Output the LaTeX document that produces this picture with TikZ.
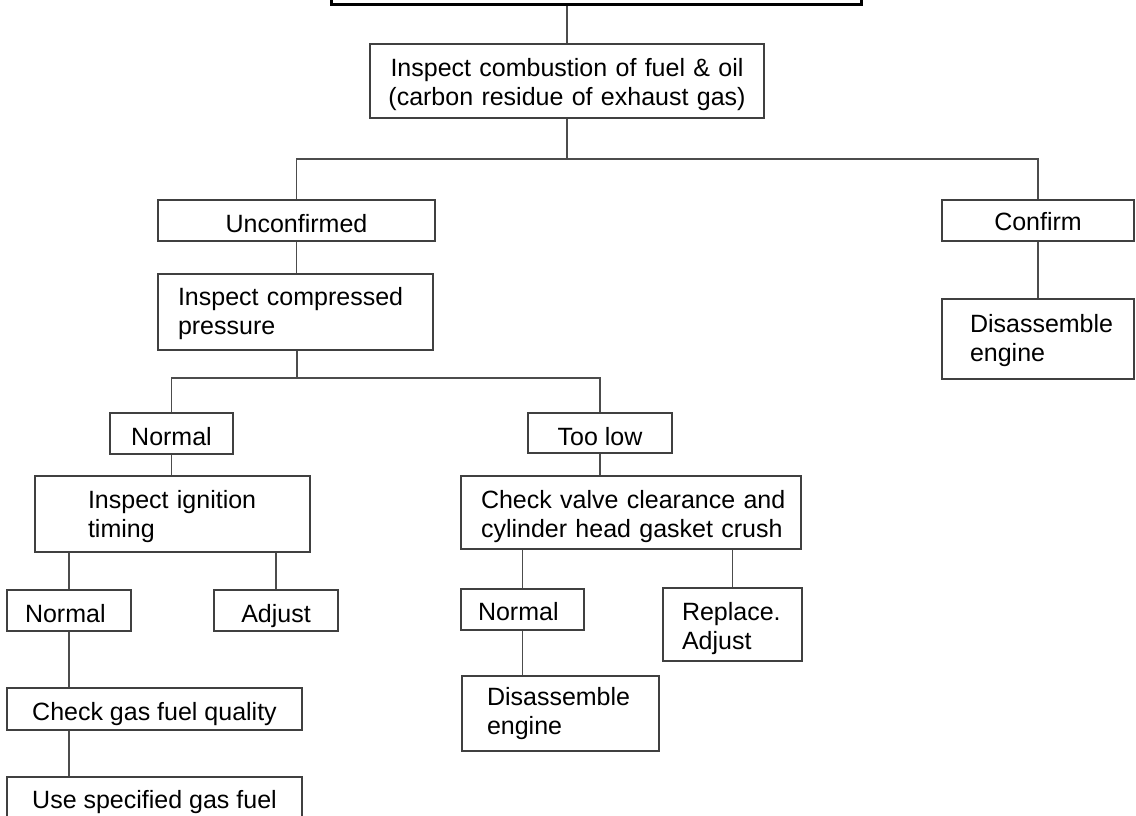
\documentclass[tikz,border=0pt]{standalone}
\usepackage{fontspec}
\setmainfont{Liberation Sans}
\begin{document}
\begin{tikzpicture}[x=1pt,y=-1pt,
  box/.style={draw=black!75, line width=1.2pt, inner xsep=0pt, inner ysep=0pt,
    font=\fontsize{25}{29}\selectfont, text=black},
  lbox/.style={box, align=left},
  cbox/.style={box, align=center},
  tb/.style 2 args={text height=#1pt, text depth=#2pt},
  conn/.style={draw=black!70, line width=1.2pt}]
\useasboundingbox (0,0) rectangle (1136,816);
\clip (0,0) rectangle (1136,816);
% top (cut-off) box
\node[draw=black, line width=3pt, minimum width=530pt, minimum height=60pt] (top) at (596,-25) {};
\node[cbox, minimum width=394pt, text width=370pt, tb={33}{41}] (b1) at (567,81)
  {\mbox{Inspect combustion of fuel \& oil}\\\mbox{(carbon residue of exhaust gas)}};
\node[cbox, minimum width=277pt, tb={32}{9}] (unc) at (296.5,220.5) {Unconfirmed};
\node[lbox, minimum width=275pt, text width=235pt, tb={31}{45}] (comp) at (295.5,312)
  {\mbox{Inspect compressed}\\pressure};
\node[cbox, minimum width=192pt, tb={30}{11}] (conf) at (1038,220.5) {Confirm};
\node[lbox, minimum width=192pt, text width=136pt, tb={33}{47}] (dis1) at (1038,339)
  {Disassemble\\engine};
\node[cbox, minimum width=123pt, tb={32}{9}] (n1) at (171.5,433.5) {Normal};
\node[lbox, minimum width=275pt, text width=169pt, tb={32}{44}] (ign) at (172.5,514)
  {\mbox{Inspect ignition}\\timing};
\node[lbox, minimum width=124pt, text width=88pt, tb={32}{9}] (n2) at (69,610.5) {Normal};
\node[cbox, minimum width=124pt, tb={32}{9}] (adj) at (276,610.5) {Adjust};
\node[cbox, minimum width=295pt, tb={32}{10}] (cg) at (154.5,709) {Check gas fuel quality};
\node[cbox, minimum width=295pt, tb={31}{11}] (us) at (154.5,798) {Use specified gas fuel};
\node[cbox, minimum width=144pt, tb={32}{8}] (tl) at (600,433) {Too low};
\node[lbox, minimum width=340pt, text width=300pt, tb={32}{41}] (cv) at (631,512.5)
  {\mbox{Check valve clearance and}\\\mbox{cylinder head gasket crush}};
\node[lbox, minimum width=123pt, text width=89pt, tb={31}{10}] (n3) at (522.5,609.5) {Normal};
\node[lbox, minimum width=139pt, text width=101pt, tb={32}{41}] (rep) at (732.5,624.5)
  {Replace.\\Adjust};
\node[lbox, minimum width=197pt, text width=147pt, tb={29}{46}] (dis2) at (560.5,713.5)
  {Disassemble\\engine};
% connectors
\coordinate (bar1) at (567,159);
\coordinate (bar2) at (297,378);
\draw[conn] (top.south -| b1.north) -- (b1.north);
\draw[conn] (b1.south) -- (bar1);
\draw[conn] (unc.north) |- (bar1) -| (conf.north);
\draw[conn] (unc.south) -- (unc.south |- comp.north);
\draw[conn] (conf.south) -- (conf.south |- dis1.north);
\draw[conn] (comp.south -| bar2) -- (bar2);
\draw[conn] (n1.north) |- (bar2) -| (tl.north);
\draw[conn] (n1.south) -- (n1.south |- ign.north);
\draw[conn] (ign.south -| n2.north) -- (n2.north);
\draw[conn] (ign.south -| adj.north) -- (adj.north);
\draw[conn] (n2.south) -- (n2.south |- cg.north);
\draw[conn] (cg.south -| n2.south) -- (n2.south |- us.north);
\draw[conn] (tl.south) -- (tl.south |- cv.north);
\draw[conn] (cv.south -| n3.north) -- (n3.north);
\draw[conn] (cv.south -| rep.north) -- (rep.north);
\draw[conn] (n3.south) -- (n3.south |- dis2.north);
\end{tikzpicture}
\end{document}
